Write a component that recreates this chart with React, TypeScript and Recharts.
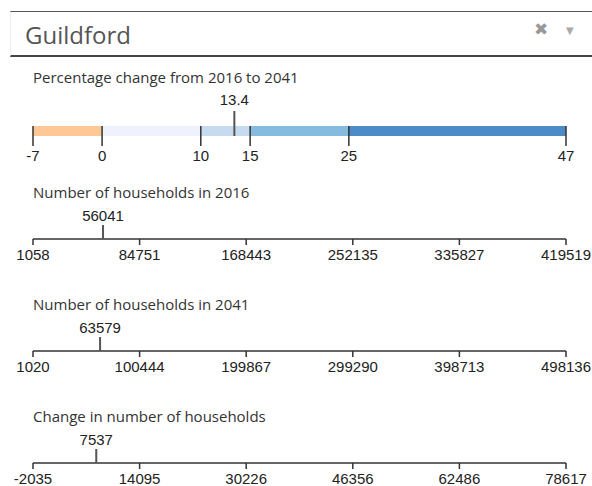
import { ComposedChart, Bar, Scatter, XAxis, YAxis, ReferenceLine } from 'recharts'

// percentage change legend
const pctBreaks = [-7, 0, 10, 15, 25, 47]
const pctColors = ['#fdc896', '#eff2fc', '#c6dbef', '#86bbe0', '#4a8bc8']
const pctValue = 13.4

// households
const hh2016Ticks = [1058, 84751, 168443, 252135, 335827, 419519]
const hh2016Value = 56041
const hh2041Ticks = [1020, 100444, 199867, 299290, 398713, 498136]
const hh2041Value = 63579
const changeTicks = [-2035, 14095, 30226, 46356, 62486, 78617]
const changeValue = 7537

const W = 592
const tickFont = { fill: '#222', fontSize: 15, fontFamily: 'Liberation Sans, Arial, sans-serif' }
const titleStyle: React.CSSProperties = {
  position: 'absolute',
  left: 33,
  fontFamily: '"Open Sans", sans-serif',
  fontSize: 15,
  lineHeight: '20px',
  color: '#333',
  whiteSpace: 'nowrap',
}

// marker drawn by ReferenceLine, stretched up by `ext` px above the plot top
const markerShape = (ext: number) => (p: any) => (
  <line
    x1={p.x1}
    x2={p.x2}
    y1={Math.min(p.y1, p.y2) - ext}
    y2={Math.max(p.y1, p.y2)}
    stroke="#555"
    strokeWidth={2}
  />
)

// marker for the plain axes: tick up from the axis plus the value above it
const pointMarker = (p: any) => (
  <g>
    <line x1={p.cx} x2={p.cx} y1={p.cy - 14} y2={p.cy} stroke="#555" strokeWidth={2} />
    <text x={p.cx} y={p.cy - 18} textAnchor="middle" {...tickFont}>
      {p.payload.v}
    </text>
  </g>
)

function PctChart({ top }: { top: number }) {
  const row: Record<string, any> = { name: 'pct' }
  pctBreaks.slice(1).forEach((hi, i) => {
    const lo = pctBreaks[i]
    row['s' + i] = hi <= 0 ? lo - hi : hi - lo
  })
  const domain = [pctBreaks[0], pctBreaks[pctBreaks.length - 1]]
  return (
    <div style={{ position: 'absolute', left: 0, top }}>
      <ComposedChart
        layout="vertical"
        width={W}
        height={96}
        data={[row]}
        stackOffset="sign"
        barCategoryGap={0}
        margin={{ top: 46, right: 26, bottom: 0, left: 33 }}
      >
        <XAxis
          xAxisId="top"
          orientation="top"
          type="number"
          domain={domain}
          height={0}
          tick={false}
          tickLine={false}
          axisLine={{ stroke: '#333', strokeWidth: 1.5 }}
        />
        <XAxis
          type="number"
          domain={domain}
          ticks={pctBreaks}
          interval={0}
          axisLine={false}
          tickSize={10}
          tickMargin={4}
          tickLine={{ stroke: '#333', strokeWidth: 1.5 }}
          tick={tickFont}
          height={40}
        />
        <YAxis type="category" dataKey="name" hide />
        {pctColors.map((c, i) => (
          <Bar key={i} dataKey={'s' + i} stackId="a" fill={c} isAnimationActive={false} />
        ))}
        {pctBreaks.map((v) => (
          <ReferenceLine key={v} x={v} stroke="#333" strokeWidth={1.5} />
        ))}
        <ReferenceLine
          x={pctValue}
          shape={markerShape(15)}
          label={{ value: String(pctValue), position: 'top', offset: 21, ...tickFont }}
        />
      </ComposedChart>
    </div>
  )
}

function AxisChart({ top, ticks, value }: { top: number; ticks: number[]; value: number }) {
  return (
    <div style={{ position: 'absolute', left: 0, top }}>
      <ComposedChart
        width={W}
        height={74}
        data={[{ v: value, y: 0 }]}
        margin={{ top: 30, right: 26, bottom: 0, left: 33 }}
      >
        <XAxis
          type="number"
          dataKey="v"
          domain={[ticks[0], ticks[ticks.length - 1]]}
          ticks={ticks}
          interval={0}
          tickSize={6}
          tickMargin={4}
          axisLine={{ stroke: '#333', strokeWidth: 1.5 }}
          tickLine={{ stroke: '#333', strokeWidth: 1.5 }}
          tick={tickFont}
          height={30}
        />
        <YAxis type="number" dataKey="y" domain={[0, 1]} hide />
        <Scatter dataKey="y" shape={pointMarker} isAnimationActive={false} />
      </ComposedChart>
    </div>
  )
}

export default function App() {
  return (
    <div
      style={{
        position: 'absolute',
        left: 0,
        top: 0,
        width: W,
        height: 486,
        overflow: 'hidden',
        background: '#fff',
      }}
    >
      {/* header box */}
      <div
        style={{
          position: 'absolute',
          left: 10,
          top: 11,
          width: 581,
          height: 43,
          borderTop: '1.5px solid #555',
          borderBottom: '2px solid #444',
          borderRight: '1px solid #888',
          borderLeft: '1px solid #eee',
        }}
      >
        <div
          style={{
            position: 'absolute',
            left: 14,
            top: 7,
            fontFamily: '"Open Sans", sans-serif',
            fontSize: 24,
            lineHeight: '32px',
            color: '#555',
          }}
        >
          Guildford
        </div>
        <div
          style={{
            position: 'absolute',
            left: 523,
            top: 9,
            fontSize: 17,
            lineHeight: '17px',
            color: '#999',
            fontFamily: 'DejaVu Sans, sans-serif',
          }}
        >
          ✖
        </div>
        <div
          style={{
            position: 'absolute',
            left: 555,
            top: 14,
            fontSize: 10,
            lineHeight: '10px',
            color: '#aaa',
            fontFamily: 'DejaVu Sans, sans-serif',
          }}
        >
          ▼
        </div>
      </div>

      <div style={{ ...titleStyle, top: 67 }}>Percentage change from 2016 to 2041</div>
      <PctChart top={80} />

      <div style={{ ...titleStyle, top: 182 }}>Number of households in 2016</div>
      <AxisChart top={195} ticks={hh2016Ticks} value={hh2016Value} />

      <div style={{ ...titleStyle, top: 294 }}>Number of households in 2041</div>
      <AxisChart top={307} ticks={hh2041Ticks} value={hh2041Value} />

      <div style={{ ...titleStyle, top: 406 }}>Change in number of households</div>
      <AxisChart top={419} ticks={changeTicks} value={changeValue} />
    </div>
  )
}
